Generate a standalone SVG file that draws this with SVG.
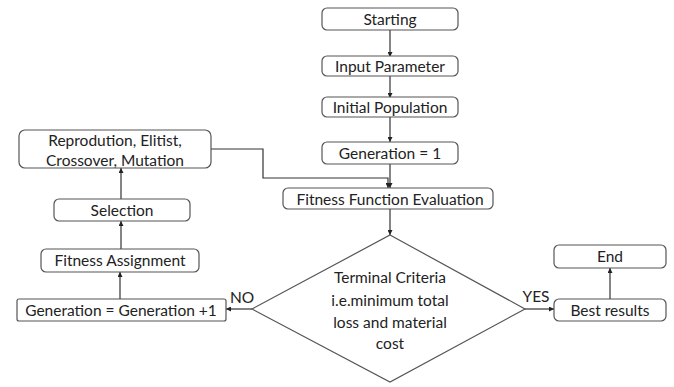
<svg xmlns="http://www.w3.org/2000/svg" width="674" height="387" viewBox="0 0 674 387">
<defs>
<marker id="ah" viewBox="0 0 6 6" refX="6" refY="3" markerWidth="5" markerHeight="5" orient="auto" markerUnits="userSpaceOnUse">
<path d="M0,0 L6,3 L0,6 z" fill="#222"/>
</marker>
<style>
.box{fill:#fff;stroke:#555;stroke-width:1.2}
.t{font-family:Lato,"Open Sans",sans-serif;font-size:15.5px;fill:#222;text-anchor:middle;dominant-baseline:central}
.c{fill:none;stroke:#333;stroke-width:1.2;marker-end:url(#ah)}
.l{fill:none;stroke:#333;stroke-width:1.2}
</style>
</defs>
<rect width="674" height="387" fill="#fff"/>
<g id="connectors">
<path class="c" d="M390,30 V57"/>
<path class="c" d="M390,76 V98"/>
<path class="c" d="M390,117 V142"/>
<path class="c" d="M390,164 V188"/>
<path class="c" d="M211,149 H263 V178 H388 V188"/>
<path class="c" d="M390,209 V235"/>
<path class="c" d="M252,309 H226"/>
<path class="c" d="M120,299 V272"/>
<path class="c" d="M121,249 V221"/>
<path class="c" d="M121,199 V168"/>
<path class="c" d="M525,309 H554"/>
<path class="c" d="M610,299 V268"/>
</g>
<g id="starting"><rect class="box" x="322" y="8" width="136" height="22" rx="5"/><text class="t" x="390" y="19">Starting</text></g>
<g id="input"><rect class="box" x="322" y="56" width="136" height="20" rx="5"/><text class="t" x="390" y="66">Input Parameter</text></g>
<g id="initial"><rect class="box" x="322" y="97" width="136" height="20" rx="5"/><text class="t" x="390" y="107">Initial Population</text></g>
<g id="gen1"><rect class="box" x="322" y="142" width="136" height="22" rx="5"/><text class="t" x="390" y="153">Generation = 1</text></g>
<g id="fitness-eval"><rect class="box" x="283" y="188" width="210" height="21" rx="5"/><text class="t" x="390" y="199">Fitness Function Evaluation</text></g>
<g id="terminal">
<polygon class="box" points="390,235 525,309 390,382 252,309"/>
<text class="t" x="390" y="277">Terminal Criteria</text>
<text class="t" x="390" y="300">i.e.minimum total</text>
<text class="t" x="390" y="322">loss and material</text>
<text class="t" x="390" y="343">cost</text>
</g>
<g id="no-label"><text class="t" x="242" y="297">NO</text></g>
<g id="yes-label"><text class="t" x="536" y="296">YES</text></g>
<g id="best"><rect class="box" x="554" y="299" width="112" height="22" rx="5"/><text class="t" x="610" y="310">Best results</text></g>
<g id="end"><rect class="box" x="554" y="245" width="112" height="23" rx="5"/><text class="t" x="610" y="256">End</text></g>
<g id="gen-inc"><rect class="box" x="17" y="299" width="209" height="22" rx="2"/><text class="t" x="121" y="310">Generation = Generation +1</text></g>
<g id="fitness-assign"><rect class="box" x="41" y="249" width="158" height="23" rx="5"/><text class="t" x="120" y="260">Fitness Assignment</text></g>
<g id="selection"><rect class="box" x="54" y="199" width="136" height="22" rx="5"/><text class="t" x="122" y="210">Selection</text></g>
<g id="reproduction"><rect class="box" x="19" y="130" width="192" height="38" rx="6"/><text class="t" x="115" y="140">Reprodution, Elitist,</text><text class="t" x="115" y="160">Crossover, Mutation</text></g>
</svg>
